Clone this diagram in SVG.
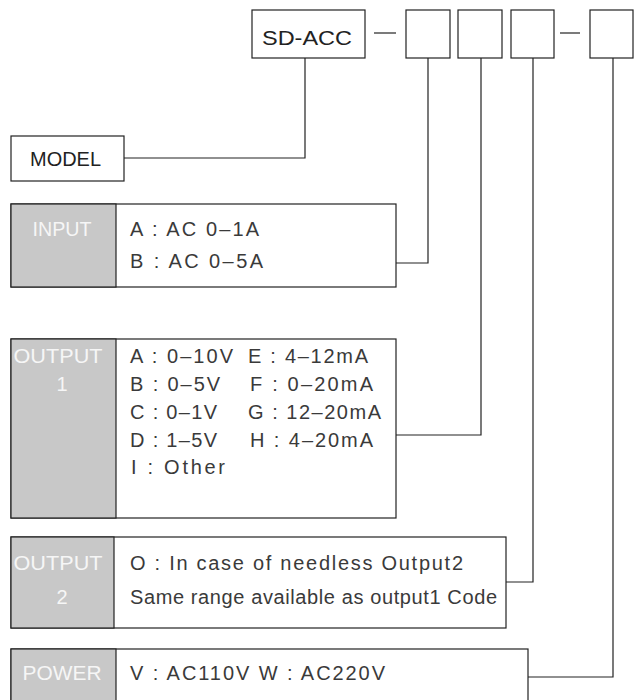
<svg xmlns="http://www.w3.org/2000/svg" width="637" height="700" viewBox="0 0 637 700">
<style>
.box{fill:#fff;stroke:#222;stroke-width:1.2}
.gray{fill:#c8c8c8;stroke:#222;stroke-width:1.2}
.t{font-family:"Liberation Sans",Arial,sans-serif;font-size:20px;fill:#3a3a3a}
.lbl{font-family:"Liberation Sans",Arial,sans-serif;font-size:20px;fill:#f6f6f6;text-anchor:middle}
.big{font-family:"Liberation Sans",Arial,sans-serif;font-size:20px;fill:#222}
.conn{fill:none;stroke:#222;stroke-width:1.2}
</style>
<g id="code">
<rect class="box" x="252" y="10" width="113" height="48"/>
<text class="big" x="262" y="45" font-size="23" textLength="90" lengthAdjust="spacingAndGlyphs">SD-ACC</text>
<line class="conn" x1="374" y1="33" x2="396" y2="33"/>
<rect class="box" x="406" y="10" width="44" height="48"/>
<rect class="box" x="458" y="10" width="44" height="48"/>
<rect class="box" x="511" y="10" width="43" height="48"/>
<line class="conn" x1="560" y1="33" x2="580" y2="33"/>
<rect class="box" x="590" y="10" width="43" height="48"/>
</g>
<g id="model">
<rect class="box" x="11" y="136" width="113" height="45"/>
<text class="big" x="30" y="166" textLength="71" lengthAdjust="spacingAndGlyphs">MODEL</text>
</g>
<g id="input">
<rect class="box" x="11" y="204" width="385" height="83"/>
<rect class="gray" x="11" y="204" width="105" height="83"/>
<text class="lbl" x="62" y="236" textLength="59" lengthAdjust="spacingAndGlyphs">INPUT</text>
<text class="t" x="130" y="236" textLength="129" lengthAdjust="spacing">A : AC 0–1A</text>
<text class="t" x="130" y="268" textLength="133" lengthAdjust="spacing">B : AC 0–5A</text>
</g>
<g id="output1">
<rect class="box" x="11" y="339" width="385" height="179"/>
<rect class="gray" x="11" y="339" width="105" height="179"/>
<text class="lbl" x="58" y="363" textLength="89" lengthAdjust="spacingAndGlyphs">OUTPUT</text>
<text class="lbl" x="62" y="391">1</text>
<text class="t" x="130" y="363" textLength="103" lengthAdjust="spacing">A : 0–10V</text>
<text class="t" x="248" y="363" textLength="120" lengthAdjust="spacing">E : 4–12mA</text>
<text class="t" x="130" y="391" textLength="90" lengthAdjust="spacing">B : 0–5V</text>
<text class="t" x="250" y="391" textLength="123" lengthAdjust="spacing">F : 0–20mA</text>
<text class="t" x="130" y="419" textLength="87" lengthAdjust="spacing">C : 0–1V</text>
<text class="t" x="248" y="419" textLength="133" lengthAdjust="spacing">G : 12–20mA</text>
<text class="t" x="130" y="447" textLength="87" lengthAdjust="spacing">D : 1–5V</text>
<text class="t" x="250" y="447" textLength="123" lengthAdjust="spacing">H : 4–20mA</text>
<text class="t" x="131" y="474" textLength="94" lengthAdjust="spacing">I  : Other</text>
</g>
<g id="output2">
<rect class="box" x="11" y="537" width="495" height="91"/>
<rect class="gray" x="11" y="537" width="103" height="91"/>
<text class="lbl" x="58" y="570" textLength="89" lengthAdjust="spacingAndGlyphs">OUTPUT</text>
<text class="lbl" x="62" y="604">2</text>
<text class="t" x="130" y="570" textLength="333" lengthAdjust="spacing">O : In case of needless Output2</text>
<text class="t" x="130" y="604" textLength="367" lengthAdjust="spacing">Same range available as output1 Code</text>
</g>
<g id="power">
<rect class="box" x="11" y="649" width="517" height="60"/>
<rect class="gray" x="11" y="649" width="105" height="60"/>
<text class="lbl" x="62" y="680" textLength="79" lengthAdjust="spacingAndGlyphs">POWER</text>
<text class="t" x="130" y="680" textLength="255" lengthAdjust="spacing">V : AC110V W : AC220V</text>
</g>
<g id="connectors">
<polyline class="conn" points="124,158 305,158 305,58"/>
<polyline class="conn" points="396,263 428,263 428,58"/>
<polyline class="conn" points="396,435 481,435 481,58"/>
<polyline class="conn" points="506,582 533,582 533,58"/>
<polyline class="conn" points="528,677 613,677 613,58"/>
</g>
</svg>
